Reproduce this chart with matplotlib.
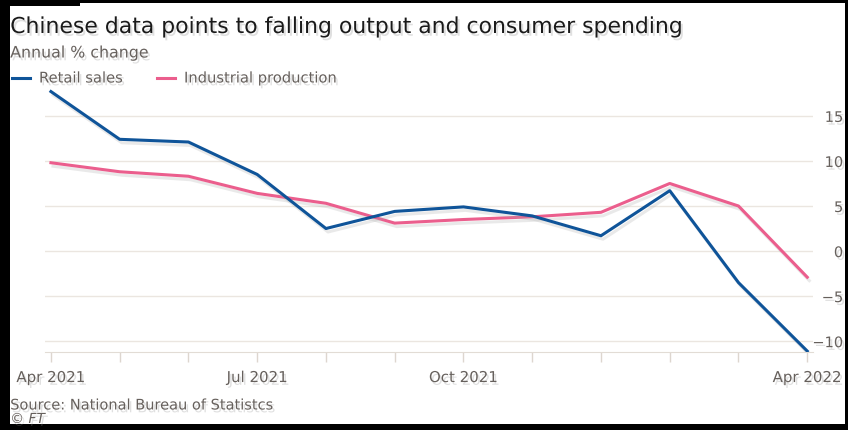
import matplotlib
matplotlib.use("Agg")
import matplotlib.pyplot as plt
import matplotlib.patheffects as pe
from matplotlib.patches import Rectangle

# China monthly data, annual % change (Jan-Feb reported together)
months = ["Apr 2021", "May 2021", "Jun 2021", "Jul 2021", "Aug 2021", "Sep 2021",
          "Oct 2021", "Nov 2021", "Dec 2021", "Jan-Feb 2022", "Mar 2022", "Apr 2022"]
retail_sales = [17.7, 12.4, 12.1, 8.5, 2.5, 4.4, 4.9, 3.9, 1.7, 6.7, -3.5, -11.1]
industrial_production = [9.8, 8.8, 8.3, 6.4, 5.3, 3.1, 3.5, 3.8, 4.3, 7.5, 5.0, -2.9]
labelled_months = {0: "Apr 2021", 3: "Jul 2021", 6: "Oct 2021", 11: "Apr 2022"}
y_ticks = [-10, -5, 0, 5, 10, 15]

BLUE = "#0f5499"
PINK = "#eb5e8d"
GREY = "#66605c"
GRID = "#ebe6e0"

plt.rcParams["font.family"] = ["DejaVu Sans"]

text_shadow = [pe.withSimplePatchShadow(offset=(1.5, -2), shadow_rgbFace="#999999", alpha=0.3)]
line_shadow = [pe.SimpleLineShadow(offset=(1.5, -2.5), shadow_color="#aaaaaa", alpha=0.25), pe.Normal()]

fig = plt.figure(figsize=(8.48, 4.31), dpi=100)
ax = fig.add_axes([0.053, 0.181, 0.906, 0.621])

x = list(range(len(months)))
ax.plot(x, industrial_production, color=PINK, lw=2.2, path_effects=line_shadow, zorder=3)
ax.plot(x, retail_sales, color=BLUE, lw=2.2, path_effects=line_shadow, zorder=4)

ax.set_xlim(-0.087, 11.087)
ax.set_ylim(-11.2, 18.5)

ax.set_yticks(y_ticks)
ax.yaxis.tick_right()
ax.tick_params(axis="y", length=0, pad=21.6, labelsize=10.5, labelcolor=GREY)
for lab in ax.get_yticklabels():
    lab.set_horizontalalignment("right")
    lab.set_path_effects(text_shadow)
ax.grid(axis="y", color=GRID, lw=1)

ax.set_xticks(x)
ax.set_xticklabels([labelled_months.get(i, "") for i in x])
ax.tick_params(axis="x", length=7, width=1, color="#ddd6cf", pad=6,
               labelsize=10.8, labelcolor=GREY)
for lab in ax.get_xticklabels():
    lab.set_path_effects(text_shadow)

for side in ["top", "left", "right"]:
    ax.spines[side].set_visible(False)
ax.spines["bottom"].set_color("#e2dcd5")
ax.set_axisbelow(True)

# titles and legend
fig.text(0.012, 1 - 28 / 431, "Chinese data points to falling output and consumer spending",
         fontsize=15.8, color="#1a1a1a", va="center", path_effects=text_shadow)
fig.text(0.012, 1 - 54 / 431, "Annual % change", fontsize=11.4, color=GREY, va="center",
         path_effects=text_shadow)

leg_y = 1 - 79 / 431
for x0, col, label in [(12, BLUE, "Retail sales"), (157, PINK, "Industrial production")]:
    fig.add_artist(plt.Line2D([x0 / 848, (x0 + 18) / 848], [leg_y, leg_y], color=col, lw=2.2))
    fig.text((x0 + 27) / 848, leg_y, label, fontsize=10.6, color=GREY, va="center",
             path_effects=text_shadow)

fig.text(0.012, 1 - 406 / 431, "Source: National Bureau of Statistcs", fontsize=10.5,
         color=GREY, va="center", path_effects=text_shadow)
fig.text(0.012, 1 - 420 / 431, "© FT", fontsize=10, color=GREY, style="italic",
         va="center", path_effects=text_shadow)

# black frame
for r in [(0, 0, 10 / 848, 1), (0, 1 - 4 / 431, 1, 4 / 431), (0, 1 - 7 / 431, 80 / 848, 7 / 431),
          (1 - 3 / 848, 0, 3 / 848, 1), (0, 0, 1, 6 / 431)]:
    fig.add_artist(Rectangle(r[:2], r[2], r[3], transform=fig.transFigure,
                             facecolor="black", edgecolor="none"))

fig.savefig("out.png", dpi=100)
